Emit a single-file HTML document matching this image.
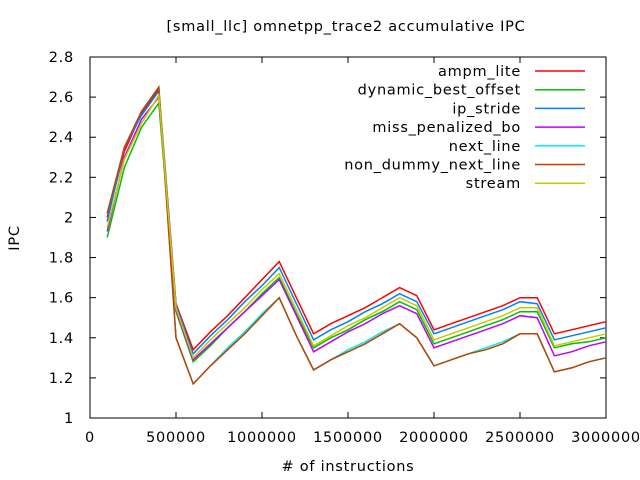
<!DOCTYPE html>
<html><head><meta charset="utf-8">
<style>body{margin:0;background:#fff}svg{display:block;font-family:"DejaVu Sans","Liberation Sans",sans-serif}text{letter-spacing:0.75px}</style>
</head><body>
<svg id="chart" width="640" height="480" viewBox="0 0 640 480" xmlns="http://www.w3.org/2000/svg">
<rect x="0" y="0" width="640" height="480" fill="#fff"/>
<text x="346" y="31" font-size="14.5" text-anchor="middle">[small_llc] omnetpp_trace2 accumulative IPC</text>
<text x="348" y="471" font-size="14.5" text-anchor="middle"># of instructions</text>
<text x="19" y="238" font-size="14.5" text-anchor="middle" transform="rotate(-90 19 238)">IPC</text>
<g id="axes"></g>
<g id="series"></g>
<g id="legend"></g>
</svg>
<script>
const names = ["ampm_lite","dynamic_best_offset","ip_stride","miss_penalized_bo","next_line","non_dummy_next_line","stream"];
const colors = ["#ff0000","#00c000","#0080ff","#c000ff","#00eeee","#c04000","#c8c800"];
const xValues = [100000,200000,300000,400000,500000,600000,700000,800000,900000,1000000,1100000,1200000,1300000,1400000,1500000,1600000,1700000,1800000,1900000,2000000,2100000,2200000,2300000,2400000,2500000,2600000,2700000,2800000,2900000,3000000];
const ampm = [2.00,2.33,2.52,2.64,1.57,1.34,1.43,1.51,1.60,1.69,1.78,1.60,1.42,1.47,1.51,1.55,1.60,1.65,1.61,1.44,1.47,1.50,1.53,1.56,1.60,1.60,1.42,1.44,1.46,1.48];
const dbo = [1.90,2.25,2.45,2.57,1.53,1.28,1.36,1.45,1.53,1.62,1.70,1.52,1.35,1.40,1.44,1.49,1.53,1.58,1.54,1.37,1.40,1.43,1.46,1.49,1.53,1.53,1.35,1.37,1.38,1.40];
const ipStride = [1.98,2.35,2.51,2.63,1.56,1.32,1.41,1.49,1.58,1.66,1.75,1.57,1.39,1.44,1.48,1.53,1.57,1.62,1.58,1.42,1.45,1.48,1.51,1.54,1.58,1.57,1.39,1.41,1.43,1.45];
const mpbo = [1.93,2.30,2.49,2.60,1.54,1.29,1.37,1.45,1.53,1.61,1.69,1.51,1.33,1.38,1.43,1.47,1.52,1.56,1.52,1.35,1.38,1.41,1.44,1.47,1.51,1.50,1.31,1.33,1.36,1.38];
const nextLine = [2.02,2.35,2.53,2.65,1.40,1.17,1.26,1.35,1.43,1.52,1.60,1.41,1.24,1.29,1.34,1.38,1.43,1.47,1.40,1.26,1.29,1.32,1.35,1.38,1.42,1.42,1.23,1.25,1.28,1.30];
const nonDummy = [2.02,2.35,2.53,2.65,1.40,1.17,1.26,1.34,1.42,1.51,1.60,1.41,1.24,1.29,1.33,1.37,1.42,1.47,1.40,1.26,1.29,1.32,1.34,1.37,1.42,1.42,1.23,1.25,1.28,1.30];
const stream = [1.95,2.29,2.47,2.61,1.55,1.30,1.39,1.47,1.55,1.64,1.72,1.54,1.36,1.41,1.46,1.50,1.55,1.60,1.56,1.39,1.42,1.45,1.48,1.51,1.55,1.55,1.36,1.38,1.40,1.42];
const seriesData = [ampm,dbo,ipStride,mpbo,nextLine,nonDummy,stream];
const yTicks = ["1","1.2","1.4","1.6","1.8","2","2.2","2.4","2.6","2.8"];
const xTicks = ["0","500000","1000000","1500000","2000000","2500000","3000000"];

const NS="http://www.w3.org/2000/svg";
const L=90,R=606,T=57,B=418;
const xs=v=>L+(v/3000000)*(R-L);
const ys=v=>B-(v-1)/1.8*(B-T);
function mk(tag,attrs,parent){const e=document.createElementNS(NS,tag);for(const k in attrs)e.setAttribute(k,attrs[k]);parent.appendChild(e);return e;}
const axes=document.getElementById('axes');
const frame=mk('rect',{x:L,y:T,width:R-L,height:B-T,fill:'none',stroke:'#000','stroke-width':1},axes);


yTicks.forEach(t=>{const v=parseFloat(t),y=ys(v);
 mk('line',{x1:L,y1:y,x2:L+6,y2:y,stroke:'#000'},axes);
 mk('line',{x1:R,y1:y,x2:R-6,y2:y,stroke:'#000'},axes);
 const tx=mk('text',{x:L-16,y:y+5,'font-size':14.5,'text-anchor':'end'},axes);tx.textContent=t;
 
 
});
xTicks.forEach(t=>{const v=parseFloat(t),x=xs(v);
 mk('line',{x1:x,y1:B,x2:x,y2:B-6,stroke:'#000'},axes);
 mk('line',{x1:x,y1:T,x2:x,y2:T+6,stroke:'#000'},axes);
 const tx=mk('text',{x:x,y:B+24,'font-size':14.5,'text-anchor':'middle'},axes);tx.textContent=t;
 
 
});
const sg=document.getElementById('series');
seriesData.forEach((d,i)=>{
 const pts=d.map((v,j)=>xs(xValues[j]).toFixed(1)+','+ys(v).toFixed(1)).join(' ');
 const p=mk('polyline',{points:pts,fill:'none',stroke:colors[i],'stroke-width':1.5},sg);
 
 
});
const lg=document.getElementById('legend');
names.forEach((n,i)=>{const y=71+i*18.7;
 const g=mk('g',{},lg);
 
 
 const tx=mk('text',{x:521,y:y+5,'font-size':14.5,'text-anchor':'end'},g);tx.textContent=n;
 mk('line',{x1:535,y1:y,x2:585,y2:y,stroke:colors[i],'stroke-width':1.5},g);
});
</script>
</body></html>
